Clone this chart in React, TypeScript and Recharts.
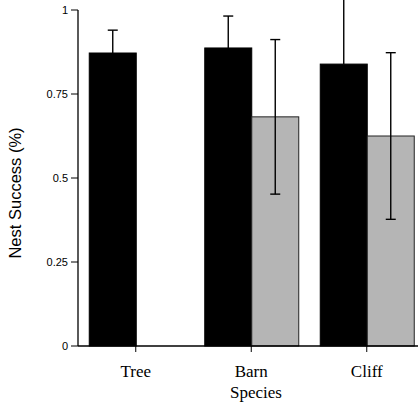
import React from "react";
import { BarChart, Bar, XAxis, YAxis } from "recharts";

const species = ["Tree", "Barn", "Cliff"];
const blackValues = [0.872, 0.887, 0.839];
const blackErrors = [0.068, 0.095, 0.195];
const grayValues: (number | null)[] = [null, 0.682, 0.625];
const grayErrors: (number | null)[] = [null, 0.23, 0.248];
const yTicks = [0, 0.25, 0.5, 0.75, 1];

const data = species.map((s, i) => ({
  species: s,
  black: blackValues[i],
  blackErr: blackErrors[i],
  gray: grayValues[i],
  grayErr: grayErrors[i],
}));

const makeShape = (valKey: string, errKey: string, fill: string, stroke: string, showLower: boolean) => (props: any) => {
  const { x, y, width, height, payload } = props;
  const v = payload?.[valKey];
  const e = payload?.[errKey];
  if (v == null || !height) return <g />;
  const ppu = height / v;
  const cx = x + width / 2;
  const top = y - e * ppu;
  const bot = y + e * ppu;
  const cap = 5;
  return (
    <g>
      <rect x={x} y={y} width={width} height={height} fill={fill} stroke={stroke} strokeWidth={1} />
      <line x1={cx} x2={cx} y1={top} y2={showLower ? bot : y} stroke="#000" strokeWidth={1.4} />
      <line x1={cx - cap} x2={cx + cap} y1={top} y2={top} stroke="#000" strokeWidth={1.4} />
      {showLower && <line x1={cx - cap} x2={cx + cap} y1={bot} y2={bot} stroke="#000" strokeWidth={1.4} />}
    </g>
  );
};

const blackShape = makeShape("black", "blackErr", "#000", "#000", false);
const grayShape = makeShape("gray", "grayErr", "#b5b5b5", "#222", true);

export default function App() {
  return (
    <div style={{ position: "absolute", left: 0, top: 0, width: 418, height: 415, overflow: "hidden", background: "#fff" }}>
      <BarChart
        width={430}
        height={415}
        data={data}
        margin={{ top: 10, right: 5.5, bottom: 0, left: 0 }}
        barCategoryGap={11.25}
        barGap={0}
      >
        <XAxis
          dataKey="species"
          height={69}
          tickSize={6}
          tickMargin={13}
          axisLine={{ stroke: "#000", strokeWidth: 1.3 }}
          tickLine={{ stroke: "#000" }}
          tick={{ fill: "#000", fontFamily: "Liberation Serif", fontSize: 17 }}
          label={{
            content: () => (
              <text x={256} y={398} textAnchor="middle" fontFamily="Liberation Serif" fontSize={17} fill="#000">
                Species
              </text>
            ),
          }}
        />
        <YAxis
          width={78}
          domain={[0, 1]}
          ticks={yTicks}
          tickSize={7}
          tickMargin={3}
          axisLine={{ stroke: "#000", strokeWidth: 1.3 }}
          tickLine={{ stroke: "#000" }}
          tick={{ fill: "#000", fontFamily: "Liberation Sans", fontSize: 11 }}
          tickFormatter={(v: number) => String(v)}
          label={{
            content: () => (
              <text
                x={15}
                y={193}
                transform="rotate(-90, 15, 193)"
                textAnchor="middle"
                dominantBaseline="central"
                fontFamily="Liberation Sans"
                fontSize={16.5}
                fill="#000"
              >
                Nest Success (%)
              </text>
            ),
          }}
        />
        <Bar dataKey="black" isAnimationActive={false} shape={blackShape} />
        <Bar dataKey="gray" isAnimationActive={false} shape={grayShape} />
      </BarChart>
    </div>
  );
}
